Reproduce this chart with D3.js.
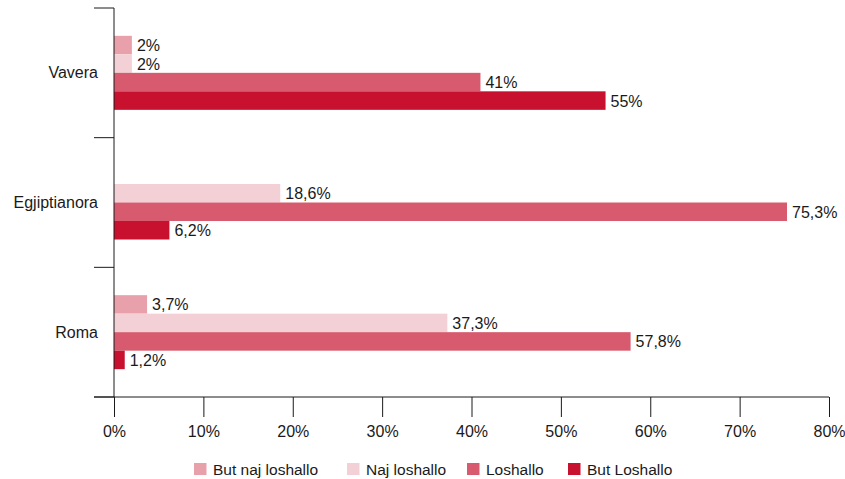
<!DOCTYPE html>
<html>
<head>
<meta charset="utf-8">
<script src="https://cdn.jsdelivr.net/npm/d3@7"></script>
<style>
  body { margin: 0; background: #fff; }
  svg { font-family: "Liberation Sans", Arial, sans-serif; }
</style>
</head>
<body>
<svg id="chart" width="845" height="479"></svg>
<script>
// data
const categories = ["Vavera", "Egjiptianora", "Roma"];
const seriesNames = ["But naj loshallo", "Naj loshallo", "Loshallo", "But Loshallo"];
const butNajLoshallo = [2, null, 3.7];
const najLoshallo = [2, 18.6, 37.3];
const loshallo = [41, 75.3, 57.8];
const butLoshallo = [55, 6.2, 1.2];
const xTicks = [0, 10, 20, 30, 40, 50, 60, 70, 80];

const colors = ["#e8a1ab", "#f3d0d6", "#d75a6e", "#c8102f"];
const seriesValues = [butNajLoshallo, najLoshallo, loshallo, butLoshallo];

const svg = d3.select("#chart");
const plot = { left: 114, right: 829, top: 8, bottom: 397 };

const x = d3.scaleLinear().domain([0, 80]).range([plot.left, plot.right]);
const y = d3.scaleBand().domain(categories).range([plot.top, plot.bottom]);
const groupH = 74;
const yInner = d3.scaleBand().domain(seriesNames).range([0, groupH]);

function fmt(v) {
    return String(v).replace(".", ",") + "%";
}

// bars
categories.forEach((cat, ci) => {
    const g = svg.append("g")
        .attr("transform", "translate(0," + (y(cat) + (y.bandwidth() - groupH) / 2) + ")");
    seriesNames.forEach((s, si) => {
        const v = seriesValues[si][ci];
        if (v == null) return;
        g.append("rect")
            .attr("x", x(0))
            .attr("y", yInner(s))
            .attr("width", x(v) - x(0))
            .attr("height", yInner.bandwidth())
            .attr("fill", colors[si]);
        g.append("text")
            .attr("x", x(v) + 5)
            .attr("y", yInner(s) + yInner.bandwidth() / 2)
            .attr("dy", "0.38em")
            .attr("font-size", 16)
            .attr("fill", "#1a1a1a")
            .text(fmt(v));
    });
});

// x axis
const xAxis = svg.append("g")
    .attr("transform", "translate(0," + plot.bottom + ")")
    .call(d3.axisBottom(x).tickValues(xTicks).tickSize(20).tickPadding(9)
        .tickFormat(d => d + "%"));
xAxis.select(".domain").remove();
xAxis.selectAll("line").attr("stroke", "#1a1a1a");
xAxis.selectAll("text").attr("font-size", 16).attr("fill", "#1a1a1a")
    .attr("font-family", "Liberation Sans, Arial, sans-serif");
svg.append("line")
    .attr("x1", plot.left - 20).attr("x2", plot.right)
    .attr("y1", plot.bottom).attr("y2", plot.bottom)
    .attr("stroke", "#1a1a1a");

// y axis
svg.append("line")
    .attr("x1", plot.left).attr("x2", plot.left)
    .attr("y1", plot.top).attr("y2", plot.bottom)
    .attr("stroke", "#1a1a1a");
const bounds = categories.map(c => y(c)).concat([plot.bottom]);
svg.selectAll(".ytick").data(bounds).join("line")
    .attr("class", "ytick")
    .attr("x1", plot.left - 20).attr("x2", plot.left)
    .attr("y1", d => d).attr("y2", d => d)
    .attr("stroke", "#1a1a1a");
svg.selectAll(".ylab").data(categories).join("text")
    .attr("class", "ylab")
    .attr("x", 98)
    .attr("y", d => y(d) + y.bandwidth() / 2)
    .attr("dy", "0.35em")
    .attr("text-anchor", "end")
    .attr("font-size", 16)
    .attr("fill", "#1a1a1a")
    .text(d => d);

// legend
const legendX = [194, 347, 467, 568];
const legend = svg.append("g").attr("transform", "translate(0,463)");
seriesNames.forEach((s, i) => {
    legend.append("rect")
        .attr("x", legendX[i]).attr("y", 0)
        .attr("width", 12.5).attr("height", 12)
        .attr("fill", colors[i]);
    legend.append("text")
        .attr("x", legendX[i] + 19).attr("y", 6)
        .attr("dy", "0.36em")
        .attr("font-size", 15.5)
        .attr("fill", "#1a1a1a")
        .text(s);
});
</script>
</body>
</html>
